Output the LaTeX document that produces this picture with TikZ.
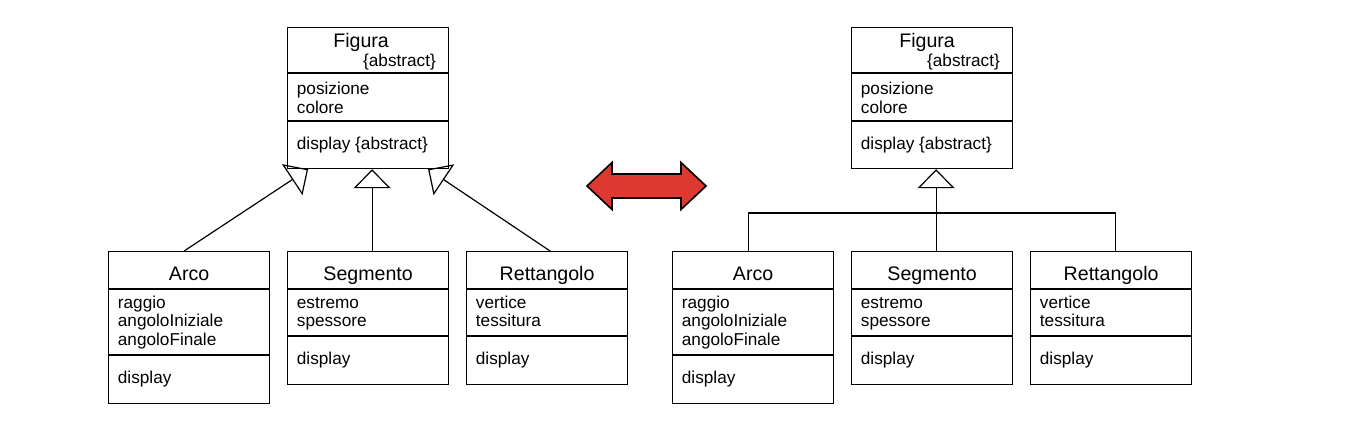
\documentclass[tikz,border=0pt]{standalone}
\usepackage{fontspec}
\setmainfont{Liberation Sans}
\usepackage{tikz}
\usetikzlibrary
  {
    arrows.meta,  % open triangle heads
    calc,         % offsets from anchors
  }

\definecolor{arrowred}{RGB}{221,57,48}

\begin{document}
\begin{tikzpicture}
    [
      x=0.5pt, y=-0.5pt,
      classframe/.style=
        {
          rectangle,
          draw=black,
          line width=0.6pt,
          minimum width=80.5pt,
          inner sep=0pt,
          anchor=north west,
        },
      classname/.style=
        {
          font=\fontsize{9.8}{11}\selectfont,
          anchor=base,
          inner sep=0pt,
        },
      members/.style=
        {
          font=\fontsize{8.6}{9.35}\selectfont,
          align=left,
          anchor=base west,
          inner sep=0pt,
        },
      divider/.style=
        {
          line width=0.6pt,
        },
      inherit/.style=
        {
          line width=0.6pt,
          -{Triangle[open, length=9.5pt, width=18.5pt]},
        },
      link/.style=
        {
          line width=0.6pt,
        },
      bigarrow/.style=
        {
          draw=black,
          fill=arrowred,
          line width=0.8pt,
          line join=miter,
        },
    ]
    \useasboundingbox (0,0) rectangle (1370,430);

    % left: separate generalisations
    % (base of a multi-line member list = baseline of its last line)
    \node[classframe, minimum height=70.5pt] (figura)   at (287,27)  {};
    \draw[divider] (figura.north west) ++(0,46) -- ++(161,0);
    \draw[divider] (figura.north west) ++(0,94) -- ++(161,0);
    \node[classname] (figura name) at ($(figura.north)+(-7,20)$) {Figura};
    \node[members, anchor=base east] (figura abs) at ($(figura.north east)+(-13,39)$) {\{abstract\}};
    \node[members] (figura attr) at ($(figura.north west)+(9.5,86)$) {posizione\\colore};
    \node[members] (figura op)   at ($(figura.north west)+(9.5,122)$) {display \{abstract\}};

    \node[classframe, minimum height=76pt] (arco) at (108,251) {};
    \draw[divider] (arco.north west) ++(0,38) -- ++(161,0);
    \draw[divider] (arco.north west) ++(0,104) -- ++(161,0);
    \node[classname] (arco name) at ($(arco.north)+(0,29)$) {Arco};
    \node[members] (arco attr) at ($(arco.north west)+(9.5,94.5)$) {raggio\\angoloIniziale\\angoloFinale};
    \node[members] (arco op)   at ($(arco.north west)+(9.5,132)$) {display};

    \node[classframe, minimum height=66.5pt] (segmento) at (287,251) {};
    \draw[divider] (segmento.north west) ++(0,38) -- ++(161,0);
    \draw[divider] (segmento.north west) ++(0,85) -- ++(161,0);
    \node[classname] (segmento name) at ($(segmento.north)+(0,29)$) {Segmento};
    \node[members] (segmento attr) at ($(segmento.north west)+(9.5,75.7)$) {estremo\\spessore};
    \node[members] (segmento op)   at ($(segmento.north west)+(9.5,113)$) {display};

    \node[classframe, minimum height=66.5pt] (rettangolo) at (466,251) {};
    \draw[divider] (rettangolo.north west) ++(0,38) -- ++(161,0);
    \draw[divider] (rettangolo.north west) ++(0,85) -- ++(161,0);
    \node[classname] (rettangolo name) at ($(rettangolo.north)+(0,29)$) {Rettangolo};
    \node[members] (rettangolo attr) at ($(rettangolo.north west)+(9.5,75.7)$) {vertice\\tessitura};
    \node[members] (rettangolo op)   at ($(rettangolo.north west)+(9.5,113)$) {display};

    \draw[inherit] ($(arco.north)+(-5,0)$)       -- ($(figura.south)+(-60,0)$);
    \draw[inherit] ($(segmento.north)+(4,0)$)    -- ($(figura.south)+(4,0)$);
    \draw[inherit] ($(rettangolo.north)+(3,0)$)  -- ($(figura.south)+(60,0)$);

    % middle: equivalence arrow
    \draw[bigarrow]
      (587,186) -- (612,162.5) -- (612,174) -- (681,174) -- (681,162.5)
      -- (706,186) -- (681,209.5) -- (681,198) -- (612,198) -- (612,209.5)
      -- cycle;

    % right: shared generalisation
    \node[classframe, minimum height=70.5pt] (figura2) at (851,27) {};
    \draw[divider] (figura2.north west) ++(0,46) -- ++(161,0);
    \draw[divider] (figura2.north west) ++(0,94) -- ++(161,0);
    \node[classname] (figura2 name) at ($(figura2.north)+(-5,20)$) {Figura};
    \node[members, anchor=base east] (figura2 abs) at ($(figura2.north east)+(-13,39)$) {\{abstract\}};
    \node[members] (figura2 attr) at ($(figura2.north west)+(9.5,86)$) {posizione\\colore};
    \node[members] (figura2 op)   at ($(figura2.north west)+(9.5,122)$) {display \{abstract\}};

    \node[classframe, minimum height=76pt] (arco2) at (672,251) {};
    \draw[divider] (arco2.north west) ++(0,38) -- ++(161,0);
    \draw[divider] (arco2.north west) ++(0,104) -- ++(161,0);
    \node[classname] (arco2 name) at ($(arco2.north)+(0,29)$) {Arco};
    \node[members] (arco2 attr) at ($(arco2.north west)+(9.5,94.5)$) {raggio\\angoloIniziale\\angoloFinale};
    \node[members] (arco2 op)   at ($(arco2.north west)+(9.5,132)$) {display};

    \node[classframe, minimum height=66.5pt] (segmento2) at (851,251) {};
    \draw[divider] (segmento2.north west) ++(0,38) -- ++(161,0);
    \draw[divider] (segmento2.north west) ++(0,85) -- ++(161,0);
    \node[classname] (segmento2 name) at ($(segmento2.north)+(0,29)$) {Segmento};
    \node[members] (segmento2 attr) at ($(segmento2.north west)+(9.5,75.7)$) {estremo\\spessore};
    \node[members] (segmento2 op)   at ($(segmento2.north west)+(9.5,113)$) {display};

    \node[classframe, minimum height=66.5pt] (rettangolo2) at (1030,251) {};
    \draw[divider] (rettangolo2.north west) ++(0,38) -- ++(161,0);
    \draw[divider] (rettangolo2.north west) ++(0,85) -- ++(161,0);
    \node[classname] (rettangolo2 name) at ($(rettangolo2.north)+(0,29)$) {Rettangolo};
    \node[members] (rettangolo2 attr) at ($(rettangolo2.north west)+(9.5,75.7)$) {vertice\\tessitura};
    \node[members] (rettangolo2 op)   at ($(rettangolo2.north west)+(9.5,113)$) {display};

    \coordinate (bus) at ($(segmento2.north)+(4,-38)$);
    \draw[inherit] ($(segmento2.north)+(4,0)$) -- ($(figura2.south)+(4,0)$);
    \draw[link] ($(arco2.north)+(-5,0)$) |- (bus) -| ($(rettangolo2.north)+(4,0)$);
  \end{tikzpicture}
\end{document}
